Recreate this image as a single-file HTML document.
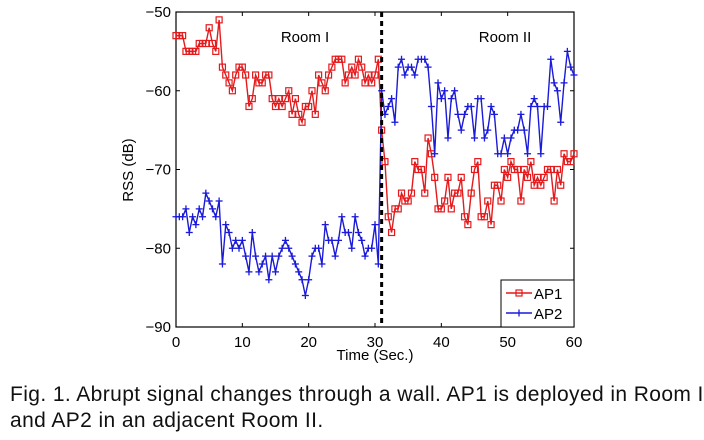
<!DOCTYPE html>
<html><head><meta charset="utf-8"><style>
body{margin:0;background:#fff;width:704px;height:440px;overflow:hidden;font-family:"Liberation Sans",Arial,sans-serif}
svg{position:absolute;left:0;top:0}
.cap{position:absolute;left:10px;font-size:21px;letter-spacing:0.4px;color:#111;white-space:nowrap}
</style></head><body>
<svg id="chart" width="704" height="380" xmlns="http://www.w3.org/2000/svg" font-family="Liberation Sans, Arial, sans-serif"></svg>
<div class="cap" style="top:383px">Fig. 1. Abrupt signal changes through a wall. AP1 is deployed in Room I</div>
<div class="cap" style="top:409px">and AP2 in an adjacent Room II.</div>
<script>
const xTicks=[0,10,20,30,40,50,60];
const yTicks=[-50,-60,-70,-80,-90];
const step=0.5;
const ap1=[-53,-53,-53,-55,-55,-55,-55,-54,-54,-54,-52,-54,-55,-51,-57,-58,-59,-60,-58,-57,-57,-58,-62,-61,-58,-59,-59,-58,-58,-61,-62,-61,-62,-61,-60,-63,-61,-63,-64,-62,-62,-60,-63,-58,-59,-60,-58,-57,-56,-56,-56,-59,-58,-57,-58,-56,-57,-59,-58,-59,-58,-56,
-65,-69,
-76,-78,-75,-75,-73,-74,-74,-73,-69,-70,-70,-73,-66,-68,-71,-75,-75,-74,-71,-75,-73,-73,-71,-76,-77,-73,-70,-69,-76,-76,-74,-77,-72,-72,-74,-70,-71,-69,-70,-70,-74,-70,-71,-69,-72,-71,-72,-71,-70,-70,-74,-70,-72,-68,-69,-69,-68];
const ap2=[-76,-76,-76,-75,-78,-76,-77,-75,-76,-73,-74,-75,-76,-74,-82,-77,-78,-80,-79,-80,-79,-81,-83,-78,-81,-83,-82,-81,-84,-81,-83,-81,-80,-79,-80,-81,-82,-83,-84,-86,-84,-81,-80,-80,-82,-77,-79,-79,-81,-79,-76,-78,-78,-80,-76,-78,-79,-81,-80,-80,-77,-82,
-60,-63,-62,-61,-64,-57,-56,-58,-57,-57,-58,-56,-56,-56,-57,-62,-68,-59,-61,-60,-66,-61,-60,-63,-65,-63,-62,-62,-66,-61,-61,-66,-65,-62,-63,-68,-68,-66,-68,-66,-65,-65,-63,-65,-68,-62,-61,-62,-68,-62,-62,-56,-59,-60,-64,-59,-55,-57,-58];
const wallTime=31;
const X0=176,X1=574,Y0=12,Y1=327;
const sx=t=>X0+(t-0)/(60-0)*(X1-X0);
const sy=v=>Y0+(-50-v)/40*(Y1-Y0);
const svg=document.getElementById('chart');
const NS='http://www.w3.org/2000/svg';
function mk(tag,attrs,parent){const e=document.createElementNS(NS,tag);for(const k in attrs)e.setAttribute(k,attrs[k]);(parent||svg).appendChild(e);return e;}
const box=mk('rect',{x:X0,y:Y0,width:X1-X0,height:Y1-Y0,fill:'#fff',stroke:'#000','stroke-width':1.2});


xTicks.forEach(t=>{
  const x=sx(t);
  mk('line',{x1:x,x2:x,y1:Y1,y2:Y1-4,stroke:'#000'});mk('line',{x1:x,x2:x,y1:Y0,y2:Y0+4,stroke:'#000'});
  const l=mk('text',{x:x,y:Y1+20,'font-size':15,'text-anchor':'middle'});l.textContent=t;
  
  
});
yTicks.forEach(v=>{
  const y=sy(v);
  mk('line',{x1:X0,x2:X0+4,y1:y,y2:y,stroke:'#000'});mk('line',{x1:X1,x2:X1-4,y1:y,y2:y,stroke:'#000'});
  const l=mk('text',{x:X0-5,y:y+5,'font-size':15,'text-anchor':'end'});l.textContent='\u2212'+Math.abs(v);
  
  
});
const xt=mk('text',{x:375,y:360,'font-size':15,'text-anchor':'middle'});xt.textContent='Time (Sec.)';


const yt=mk('text',{x:133,y:170,'font-size':15,'text-anchor':'middle',transform:'rotate(-90 133 170)'});yt.textContent='RSS (dB)';


const r1=mk('text',{x:305,y:42,'font-size':15,'text-anchor':'middle'});r1.textContent='Room I';


const r2=mk('text',{x:505,y:42,'font-size':15,'text-anchor':'middle'});r2.textContent='Room II';


function series(vals,color,marker,name){
  const g=mk('g',{});
  
  
  const pts=vals.map((v,i)=>sx(i*step)+','+sy(v)).join(' ');
  mk('polyline',{points:pts,fill:'none',stroke:color,'stroke-width':1.4},g);
  vals.forEach((v,i)=>{
    const x=sx(i*step),y=sy(v);
    if(marker==='sq')mk('rect',{x:x-3,y:y-3,width:6,height:6,fill:'none',stroke:color,'stroke-width':1.2},g);
    else{mk('line',{x1:x-3.5,x2:x+3.5,y1:y,y2:y,stroke:color,'stroke-width':1.3},g);mk('line',{x1:x,x2:x,y1:y-3.5,y2:y+3.5,stroke:color,'stroke-width':1.3},g);}
  });
}
series(ap1,'#e41a1c','sq','series-ap1');
series(ap2,'#1a1ad8','plus','series-ap2');
const wall=mk('line',{x1:sx(wallTime),x2:sx(wallTime),y1:Y0,y2:Y1,stroke:'#000','stroke-width':3,'stroke-dasharray':'5,4'});


const lg=mk('g',{});


mk('rect',{x:501,y:280,width:73,height:47,fill:'#fff',stroke:'#000','stroke-width':1},lg);
mk('line',{x1:506,x2:532,y1:293,y2:293,stroke:'#e41a1c','stroke-width':1.4},lg);
mk('rect',{x:516,y:290,width:6,height:6,fill:'none',stroke:'#e41a1c','stroke-width':1.2},lg);
const t1=mk('text',{x:534,y:299,'font-size':15},lg);t1.textContent='AP1';


mk('line',{x1:506,x2:532,y1:313,y2:313,stroke:'#1a1ad8','stroke-width':1.4},lg);
mk('line',{x1:519,x2:519,y1:309.5,y2:316.5,stroke:'#1a1ad8','stroke-width':1.3},lg);
const t2=mk('text',{x:534,y:319,'font-size':15},lg);t2.textContent='AP2';


</script>
</body></html>
